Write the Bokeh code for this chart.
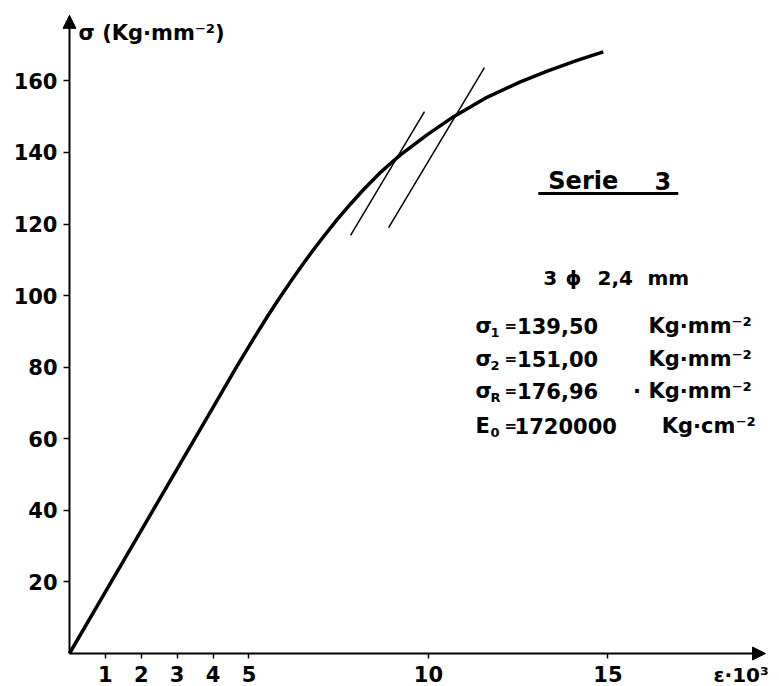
from bokeh.plotting import figure
from bokeh.models import Range1d, FixedTicker, Arrow, NormalHead, Label
from bokeh.embed import file_html
from bokeh.resources import INLINE

# stress-strain curve (strain in 1e-3, stress in Kg/mm2)
strain = [0, 1, 2, 3, 4, 4.65, 5.13, 5.51, 5.79, 6.16, 6.48, 6.76, 7.08, 7.46, 7.83,
          8.20, 8.62, 8.94, 9.22, 9.96, 10.70, 11.63, 12.56, 13.31, 14.14, 14.87]
stress = [0, 17.2, 34.4, 51.6, 68.8, 80.0, 88.0, 94.1, 98.4, 103.9, 108.5, 112.3, 116.5, 121.3, 125.6,
          129.7, 134.0, 136.9, 139.3, 144.9, 150.0, 155.4, 159.7, 162.7, 165.7, 168.1]

# secant (offset) lines
sec1_x = [7.83, 9.89]
sec1_y = [116.8, 151.4]
sec2_x = [8.89, 11.56]
sec2_y = [119.0, 163.7]

x_ticks = [1, 2, 3, 4, 5, 10, 15]
y_ticks = [20, 40, 60, 80, 100, 120, 140, 160]

FONT = "DejaVu Sans"

p = figure(width=779, height=686,
           x_range=Range1d(-1.922, 19.78), y_range=Range1d(-9.22, 182.45),
           output_backend="svg", toolbar_location=None,
           min_border_left=0, min_border_right=0, min_border_top=0, min_border_bottom=0)
p.outline_line_color = None
p.grid.visible = False
p.background_fill_color = "white"
p.border_fill_color = "white"

for ax, ticks, tout, stand in ((p.xaxis, x_ticks, 5, 7), (p.yaxis, y_ticks, 6, 6)):
    ax.fixed_location = 0
    ax.ticker = FixedTicker(ticks=ticks)
    ax.axis_line_color = None
    ax.major_tick_line_color = "black"
    ax.major_tick_line_width = 1.5
    ax.major_tick_out = tout
    ax.major_tick_in = 0
    ax.minor_tick_line_color = None
    ax.major_label_standoff = stand
    ax.major_label_text_font = FONT
    ax.major_label_text_font_size = "21px"
    ax.major_label_text_font_style = "bold"
    ax.major_label_text_color = "black"

# axes with arrows
p.add_layout(Arrow(end=NormalHead(size=13, fill_color="black", line_color="black", line_width=1),
                   x_start=0, y_start=0, x_end=0, y_end=178.3, line_width=2, line_color="black"))
p.add_layout(Arrow(end=NormalHead(size=13, fill_color="black", line_color="black", line_width=1),
                   x_start=0, y_start=0, x_end=19.39, y_end=0, line_width=2, line_color="black"))

p.line(strain, stress, line_width=3.5, line_color="black", line_join="round")
p.line(sec1_x, sec1_y, line_width=1.5, line_color="black")
p.line(sec2_x, sec2_y, line_width=1.5, line_color="black")


def lab(x, y, text, size, align="left", weight="bold"):
    p.add_layout(Label(x=x, y=y, text=text, text_font=FONT, text_font_size=size,
                       text_align=align, text_baseline="middle", text_color="black",
                       text_font_style=weight))


# axis titles
lab(0.25, 173.5, "σ (Kg·mm⁻²)", "21px")
lab(17.94, -5.9, "ε·10³", "20px")

# series title
lab(13.34, 132.0, "Serie", "24px")
lab(16.30, 132.0, "3", "24px")
underline_x = [13.06, 16.96]
underline_y = [128.5, 128.5]
p.line(underline_x, underline_y, line_width=3, line_color="black")

# specimen
lab(13.20, 104.8, "3", "20px")
lab(13.82, 104.8, "ϕ", "20px")
lab(14.71, 104.8, "2,4", "20px")
lab(16.10, 104.8, "mm", "20px")

# characteristic values
rows = [
    ("σ", "1", "139,50", "Kg·mm⁻²", 91.6),
    ("σ", "2", "151,00", "Kg·mm⁻²", 82.4),
    ("σ", "R", "176,96", "Kg·mm⁻²", 73.3),
    ("E", "0", "1720000", "Kg·cm⁻²", 63.6),
]
for sym, sub, num, unit, yv in rows:
    lab(11.31, yv, sym, "21px")
    lab(11.73, yv - 1.8, sub, "13px")
    lab(12.12, yv, "=", "15px")
    lab(12.47 if sym != "E" else 12.40, yv, num, "21px")
    lab(16.13 if sym != "E" else 16.50, yv, unit, "21px")
lab(15.70, 73.3, "·", "21px")

open("out.html", "w").write(file_html(p, INLINE))
